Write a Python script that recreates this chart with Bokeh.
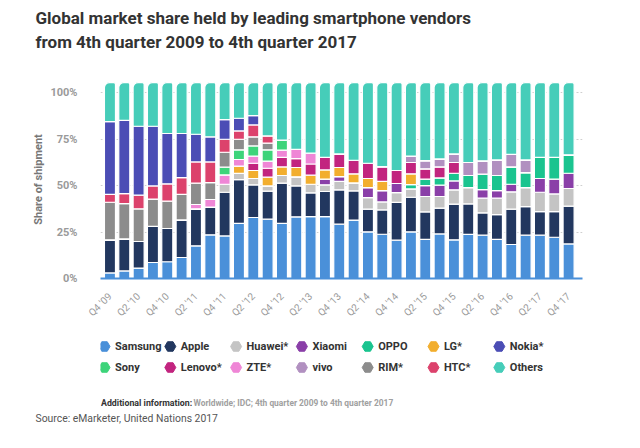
from math import pi
from bokeh.plotting import figure
from bokeh.models import ColumnDataSource, FixedTicker, Label, Range1d, Title
from bokeh.layouts import column
from bokeh.embed import file_html
from bokeh.resources import INLINE
from bokeh.core.properties import value

quarters = ["Q4 '09", "Q1 '10", "Q2 '10", "Q3 '10", "Q4 '10", "Q1 '11", "Q2 '11", "Q3 '11",
            "Q4 '11", "Q1 '12", "Q2 '12", "Q3 '12", "Q4 '12", "Q1 '13", "Q2 '13", "Q3 '13",
            "Q4 '13", "Q1 '14", "Q2 '14", "Q3 '14", "Q4 '14", "Q1 '15", "Q2 '15", "Q3 '15",
            "Q4 '15", "Q1 '16", "Q2 '16", "Q3 '16", "Q4 '16", "Q1 '17", "Q2 '17", "Q3 '17",
            "Q4 '17"]

samsung = [3.0, 4.1, 5.6, 8.6, 9.0, 11.3, 17.6, 23.5, 22.9, 29.6, 32.8, 31.9, 29.7, 33.2, 33.3, 33.3,
           29.2, 31.4, 25.1, 23.8, 20.6, 25.1, 21.0, 24.0, 20.8, 23.7, 23.3, 21.0, 18.3, 23.3, 23.3, 22.2, 18.6]
apple = [17.8, 17.2, 14.3, 19.4, 17.9, 20.2, 19.9, 14.9, 23.5, 23.6, 17.6, 15.1, 21.6, 16.6, 12.8, 13.5,
         18.5, 15.7, 12.2, 13.1, 20.3, 18.6, 14.8, 13.8, 19.2, 16.4, 12.0, 13.4, 19.0, 15.4, 12.7, 13.8, 20.3]
huawei = [0, 0, 0, 0, 0, 0, 0, 0, 4.3, 3.3, 3.4, 2.8, 4.1, 4.9, 4.6, 3.6,
          4.5, 4.3, 6.2, 4.3, 5.3, 4.5, 8.3, 6.3, 7.7, 8.8, 7.9, 8.8, 9.3, 10.2, 10.4, 9.5, 9.5]
xiaomi = [0, 0, 0, 0, 0, 0, 0, 0, 0, 0, 0, 0, 0, 0, 0, 3.0,
          2.6, 0, 5.4, 6.1, 4.9, 0, 5.9, 6.1, 4.8, 0, 4.6, 4.1, 4.1, 0, 7.4, 7.9, 8.2]
oppo = [0, 0, 0, 0, 0, 0, 0, 0, 0, 0, 0, 0, 0, 0, 0, 0,
        0, 0, 0, 0, 0, 2.3, 3.4, 3.9, 4.1, 6.5, 8.3, 8.1, 9.3, 8.1, 11.4, 11.8, 9.9]
lg = [0, 0, 0, 0, 0, 0, 0, 0, 0, 3.9, 4.3, 4.7, 4.6, 5.0, 4.9, 5.0,
      4.9, 4.9, 4.9, 4.9, 0, 5.8, 0, 0, 0, 0, 0, 0, 0, 0, 0, 0, 0]
lenovo = [0, 0, 0, 0, 0, 0, 0, 0, 0, 0, 3.9, 4.8, 5.2, 4.8, 6.0, 6.8,
          7.3, 7.3, 8.2, 8.0, 7.0, 6.1, 5.6, 5.9, 5.8, 0, 0, 0, 0, 0, 0, 0, 0]
zte = [0, 0, 0, 0, 0, 0, 2.3, 4.1, 5.0, 3.6, 3.9, 3.8, 3.8, 4.9, 5.8, 0,
       0, 0, 0, 0, 0, 0, 0, 0, 0, 0, 0, 0, 0, 0, 0, 0, 0]
vivo = [0, 0, 0, 0, 0, 0, 0, 0, 0, 0, 0, 0, 0, 0, 0, 0,
        0, 0, 0, 0, 0, 3.5, 4.4, 4.3, 4.6, 7.0, 7.2, 8.4, 6.8, 6.8, 0, 0, 0]
sony = [0, 0, 0, 0, 0, 0, 0, 0, 4.2, 5.2, 5.4, 6.1, 5.4, 0, 0, 0,
        0, 0, 0, 0, 0, 0, 0, 0, 0, 0, 0, 0, 0, 0, 0, 0, 0]
rim = [20.2, 19.0, 17.6, 14.7, 14.7, 13.8, 11.5, 9.1, 8.0, 5.7, 4.9, 3.6, 0, 0, 0, 0,
       0, 0, 0, 0, 0, 0, 0, 0, 0, 0, 0, 0, 0, 0, 0, 0, 0]
htc = [4.3, 5.4, 7.3, 7.1, 9.3, 9.0, 11.4, 11.1, 7.0, 4.5, 6.4, 3.9, 0, 0, 0, 0,
       0, 0, 0, 0, 0, 0, 0, 0, 0, 0, 0, 0, 0, 0, 0, 0, 0]
nokia = [39.1, 39.4, 37.1, 32.1, 27.1, 23.7, 14.9, 13.5, 10.6, 6.8, 5.0, 0, 0, 0, 0, 0,
         0, 0, 0, 0, 0, 0, 0, 0, 0, 0, 0, 0, 0, 0, 0, 0, 0]
others = [21.0, 20.3, 23.5, 23.5, 27.4, 27.4, 27.8, 29.2, 19.9, 19.2, 17.8, 28.7, 31.0, 36.0, 38.0, 40.2,
          38.4, 41.8, 43.4, 45.2, 47.3, 39.5, 42.0, 41.1, 38.4, 43.0, 42.1, 41.6, 38.6, 41.6, 40.2, 40.2, 38.9]

# stacking order (bottom -> top)
stack_names = ["Samsung", "Apple", "Huawei*", "Xiaomi", "OPPO", "LG*", "Lenovo*", "ZTE*", "vivo",
               "Sony", "RIM*", "HTC*", "Nokia*", "Others"]
stack_values = [samsung, apple, huawei, xiaomi, oppo, lg, lenovo, zte, vivo, sony, rim, htc, nokia, others]
colors = {
    "Samsung": "#4a90d9", "Apple": "#22375f", "Huawei*": "#c4c4c4", "Xiaomi": "#8a3fa8",
    "OPPO": "#1ac48f", "LG*": "#f2ae2e", "Nokia*": "#4b4db5", "Sony": "#3dd47a",
    "Lenovo*": "#c2247f", "ZTE*": "#ef86d6", "vivo": "#b190c0", "RIM*": "#8c8c8c",
    "HTC*": "#dc426c", "Others": "#46cdb9",
}
# legend order (row-major, 7 per row)
legend_names = ["Samsung", "Apple", "Huawei*", "Xiaomi", "OPPO", "LG*", "Nokia*",
                "Sony", "Lenovo*", "ZTE*", "vivo", "RIM*", "HTC*", "Others"]
y_ticks = [0, 25, 50, 75, 100]

FONT = "Roboto"

# ---------------- main chart ----------------
data = {"x": list(range(len(quarters)))}
for n, v in zip(stack_names, stack_values):
    data[n] = v
src = ColumnDataSource(data)

X0, X1 = -0.66, 32.97
Y0, Y1 = 0, 106.5
p = figure(width=640, height=330, x_range=Range1d(X0, X1), y_range=Range1d(Y0, Y1),
           output_backend="svg", toolbar_location=None,
           min_border_left=100, min_border_right=58, min_border_top=80, min_border_bottom=52)
p.outline_line_color = None
p.background_fill_color = "white"
p.border_fill_color = "white"

rs = p.vbar_stack(stack_names, x="x", width=0.77, source=src,
                  color=[colors[n] for n in stack_names], line_color="white", line_width=1.2)
rs[-1].glyph.border_radius = (5, 2, 0, 0)

p.xgrid.visible = False
p.ygrid.ticker = FixedTicker(ticks=y_ticks[1:])
p.ygrid.grid_line_color = "#cfcfcf"
p.ygrid.grid_line_dash = "2 2"
p.ygrid.grid_line_width = 1

ya = p.yaxis[0]
ya.ticker = FixedTicker(ticks=y_ticks)
ya.major_label_overrides = {t: f"{t}%" for t in y_ticks}
ya.axis_line_color = None
ya.major_tick_line_color = None
ya.minor_tick_line_color = None
ya.major_label_standoff = 17
ya.major_label_text_font = FONT
ya.major_label_text_font_style = "bold"
ya.major_label_text_font_size = "11px"
ya.major_label_text_color = "#9a9a9a"
ya.axis_label = "Share of shipment"
ya.axis_label_text_font = FONT
ya.axis_label_text_font_style = "bold"
ya.axis_label_text_font_size = "11px"
ya.axis_label_text_color = "#777777"
ya.axis_label_standoff = 2

xa = p.xaxis[0]
xa.ticker = FixedTicker(ticks=list(range(0, len(quarters), 2)))
xa.major_label_overrides = {i: quarters[i] for i in range(0, len(quarters), 2)}
xa.major_label_orientation = pi / 4
xa.axis_line_color = "#4a90d9"
xa.axis_line_width = 2
xa.major_tick_line_color = None
xa.minor_tick_line_color = None
xa.major_label_standoff = 10
xa.major_label_text_font = FONT
xa.major_label_text_font_size = "10px"
xa.major_label_text_color = "#9a9a9a"

title_lines = ["Global market share held by leading smartphone vendors",
               "from 4th quarter 2009 to 4th quarter 2017"]
# spacer between frame and title (innermost first)
p.add_layout(Title(text=" ", standoff=16, text_font=FONT, text_font_size="10px"), "above")
p.add_layout(Title(text=title_lines[1], align="left", offset=-65, standoff=0,
                   text_font=FONT, text_font_style="bold", text_font_size="17px",
                   text_color="#333333"), "above")
p.add_layout(Title(text=title_lines[0], align="left", offset=-65, standoff=3,
                   text_font=FONT, text_font_style="bold", text_font_size="17px",
                   text_color="#333333"), "above")

# ---------------- legend & notes ----------------
q = figure(width=640, frame_height=78, x_range=Range1d(100, 582), y_range=Range1d(78, 0),
           output_backend="svg", toolbar_location=None,
           x_axis_location=None, y_axis_location=None,
           min_border_left=0, min_border_right=0, min_border_top=0, min_border_bottom=0)
q.outline_line_color = None
q.xgrid.visible = False
q.ygrid.visible = False

lx = [104 + 65.8 * (i % 7) for i in range(len(legend_names))]
ly = [16 + 21 * (i // 7) for i in range(len(legend_names))]
lsrc = ColumnDataSource(dict(x=lx, y=ly, tx=[v + 10.5 for v in lx], name=legend_names,
                             c=[colors[n] for n in legend_names]))
q.scatter(x="x", y="y", marker="hex", size=11, color="c", source=lsrc)
q.text(x="tx", y="y", text="name", source=lsrc, text_font=value(FONT), text_font_size="11px",
       text_baseline="middle", text_color="#333333", text_font_style="bold")

q.add_layout(Label(x=100.5, y=72, text="Additional information:", text_font=FONT,
                   text_font_style="bold", text_font_size="8.8px", text_color="#333333",
                   text_baseline="middle"))
q.add_layout(Label(x=193, y=72, text="Worldwide; IDC; 4th quarter 2009 to 4th quarter 2017",
                   text_font=FONT, text_font_style="bold", text_font_size="8.4px",
                   text_color="#a0a0a0", text_baseline="middle"))
q.add_layout(Title(text="Source: eMarketer, United Nations 2017", align="left", offset=-65,
                   standoff=3, text_font=FONT, text_font_style="normal", text_font_size="10.4px",
                   text_color="#555555"), "below")

layout = column(p, q, spacing=0)
open("out.html", "w").write(file_html(layout, INLINE))
